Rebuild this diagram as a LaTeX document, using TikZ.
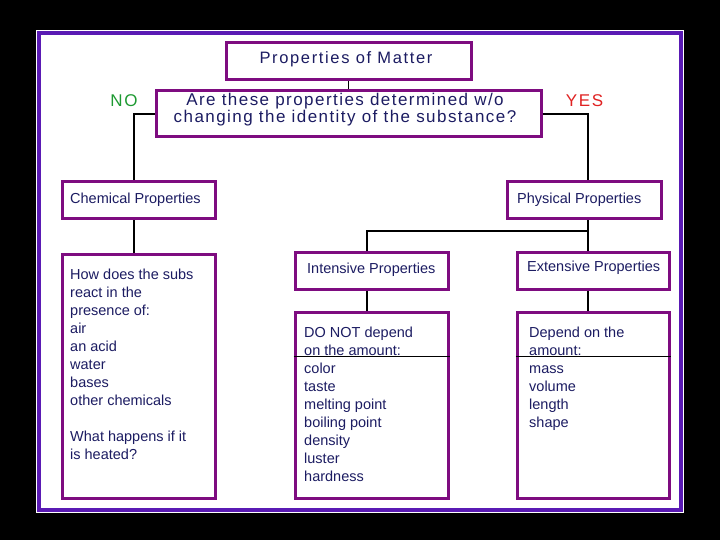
\documentclass[tikz,border=0pt]{standalone}
\usepackage{fontspec}
\setmainfont{Liberation Sans}
\newfontfamily\widefont[LetterSpace=8.5]{Liberation Sans}
\newfontfamily\widerfont[LetterSpace=10]{Liberation Sans}
\definecolor{boxpurple}{HTML}{7E0C80}
\definecolor{panelviolet}{HTML}{5A1AB4}
\definecolor{txtnavy}{HTML}{1C1C62}
\definecolor{nogreen}{HTML}{1E9A32}
\definecolor{yesred}{HTML}{E02222}
\tikzset{
  pbox/.style={draw=boxpurple, line width=3pt, fill=white, rectangle, inner sep=0pt},
  conn/.style={draw=black, line width=1.2pt},
  lbl/.style={text=txtnavy, inner sep=0pt, font=\fontsize{14.5}{18}\selectfont},
  listtxt/.style={text=txtnavy, inner sep=0pt, anchor=north west, align=left, font=\fontsize{14.5}{18}\selectfont},
}
\begin{document}
\begin{tikzpicture}[x=1pt,y=-1pt]
\useasboundingbox (0,0) rectangle (720,540);
\fill[black] (0,0) rectangle (720,540);
\fill[white] (36,30) rectangle (684,513);
\draw[panelviolet, line width=3.5pt] (39,33) rectangle (681,510);

% boxes
\node[pbox, minimum width=245pt, minimum height=37pt] (pom) at (348.5,61.5) {};
\node[pbox, minimum width=385pt, minimum height=46pt] (q) at (348.5,114) {};
\node[pbox, minimum width=153pt, minimum height=37pt] (chem) at (138.5,200.5) {};
\node[pbox, minimum width=154pt, minimum height=37pt] (phys) at (584,200.5) {};
\node[pbox, minimum width=153pt, minimum height=244pt] (chemtxt) at (138.5,376) {};
\node[pbox, minimum width=153pt, minimum height=37pt] (int) at (371.5,270.5) {};
\node[pbox, minimum width=152pt, minimum height=37pt] (ext) at (593,270.5) {};
\node[pbox, minimum width=153pt, minimum height=186pt] (inttxt) at (371.5,405) {};
\node[pbox, minimum width=152pt, minimum height=186pt] (exttxt) at (593,405) {};

% connectors
\draw[conn] (pom.south) -- (q.north);
\draw[conn] (q.west) -| ([xshift=-4.5pt]chem.north);
\draw[conn] (q.east) -| ([xshift=4pt]phys.north);
\draw[conn] ([xshift=-4.5pt]chem.south) -- ([xshift=-4.5pt]chemtxt.north);
\coordinate (split) at (588,231);
\draw[conn] ([xshift=4pt]phys.south) -- (split);
\draw[conn] (split) -| ([xshift=-4.5pt]int.north);
\draw[conn] (split) -- ([xshift=-5pt]ext.north);
\draw[conn] ([xshift=-4.5pt]int.south) -- ([xshift=-4.5pt]inttxt.north);
\draw[conn] ([xshift=-5pt]ext.south) -- ([xshift=-5pt]exttxt.north);
\draw[line width=1pt] ([yshift=-46pt]inttxt.north west) -- ([yshift=-46pt]inttxt.north east);
\draw[line width=1pt] ([yshift=-46pt]exttxt.north west) -- ([yshift=-46pt]exttxt.north east);

% labels
\node[lbl, font=\widerfont\fontsize{16.5}{17}\selectfont] (tpom) at (346,59) {Properties of Matter};
\node[lbl, align=center, font=\widefont\fontsize{17}{17}\selectfont] (tq) at (345,110) {Are these properties determined w/o\\changing the identity of the substance?};
\node[text=nogreen, inner sep=0pt, font=\widerfont\fontsize{17}{17}\selectfont] (no) at (124,101) {NO};
\node[text=yesred, inner sep=0pt, font=\widerfont\fontsize{17}{17}\selectfont] (yes) at (584.5,101) {YES};
\node[lbl, anchor=west] (tchem) at (70,200) {Chemical Properties};
\node[lbl, anchor=west] (tphys) at (517,200) {Physical Properties};
\node[lbl, anchor=west] (tint) at (307,270) {Intensive Properties};
\node[lbl, anchor=west] (text) at (527,268) {Extensive Properties};

\node[listtxt] (lchem) at (70,267) {\strut How does the subs\\react in the\\presence of:\\air\\an acid\\water\\bases\\other chemicals\\[18pt]What happens if it\\is heated?};
\node[listtxt] (lint) at (304,325) {\strut DO NOT depend\\on the amount:\\color\\taste\\melting point\\boiling point\\density\\luster\\hardness};
\node[listtxt] (lext) at (529,325) {\strut Depend on the\\amount:\\mass\\volume\\length\\shape};
\end{tikzpicture}
\end{document}
